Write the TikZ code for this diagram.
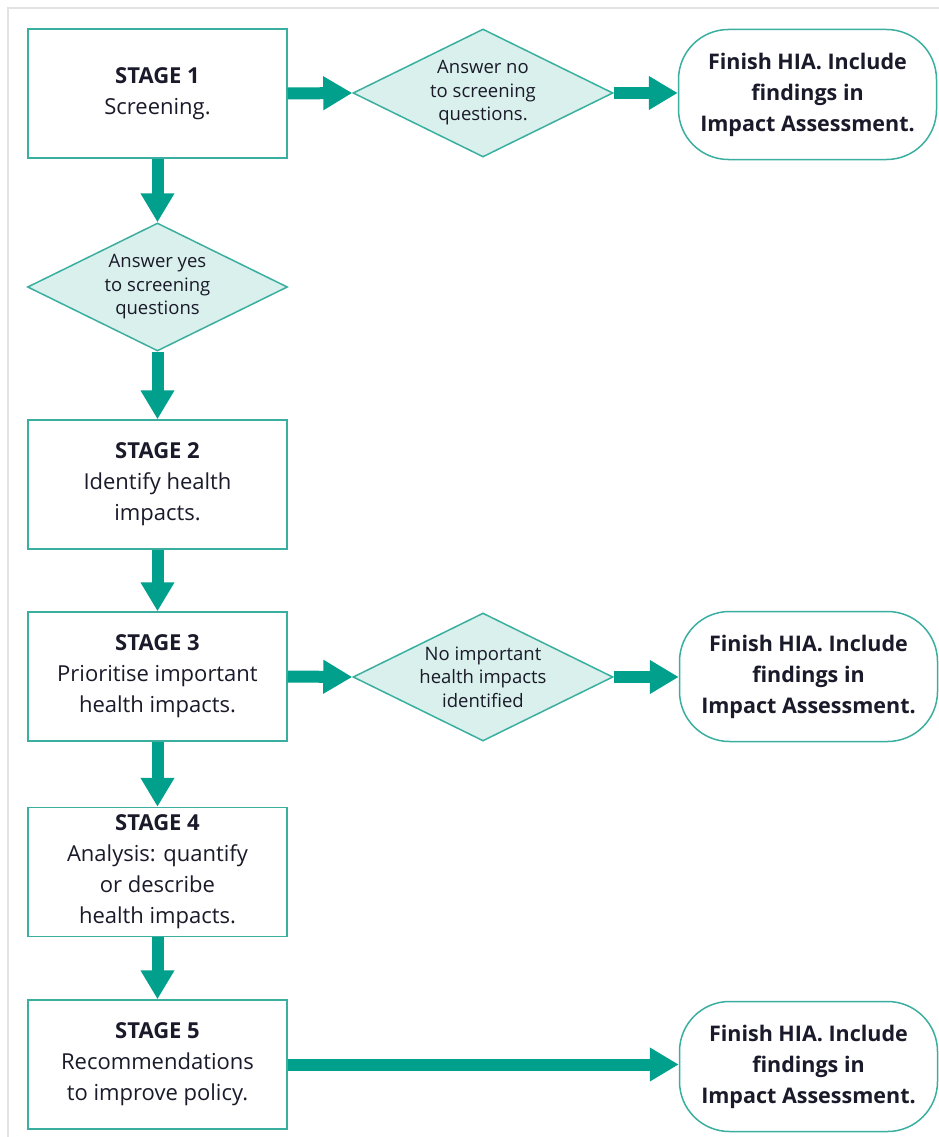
\documentclass[tikz,border=0pt]{standalone}
\usepackage{fontspec}
\setmainfont{Open Sans}
\usetikzlibrary{shapes.geometric,arrows.meta}
\definecolor{teal1}{HTML}{00A08C}
\definecolor{tealline}{HTML}{3AAFA0}
\definecolor{dfill}{HTML}{D9F0EC}
\definecolor{ink}{HTML}{1A1A2A}
\definecolor{framegray}{HTML}{E3E3E3}
\begin{document}
\begin{tikzpicture}[x=1pt,y=-1pt,
 stagebox/.style={draw=tealline, line width=1.5pt, fill=white, minimum width=259pt, minimum height=129pt, align=center, text=ink, font=\fontsize{22}{31}\selectfont, inner sep=0pt},
 dia/.style={shape=diamond, draw=tealline, line width=1.5pt, fill=dfill, minimum width=260pt, minimum height=128pt, inner sep=0pt},
 dtext/.style={align=center, text=ink, font=\fontsize{18.5}{23.5}\selectfont, inner sep=0pt},
 finish/.style={draw=tealline, line width=1.5pt, rounded corners=50pt, fill=white, minimum width=258pt, minimum height=130pt, align=center, text=ink, font=\bfseries\fontsize{21.5}{31}\selectfont, inner sep=0pt},
 flow/.style={draw=teal1, line width=12pt, -{Triangle[length=29pt,width=32pt]}}]
\useasboundingbox (0,0) rectangle (939,1137);
\draw[framegray, line width=2pt] (8,1137) -- (8,8) -- (939,8);

\node[stagebox] (s1) at (157.5,93.5) {\textbf{STAGE 1}\\Screening.};
\node[dia, label={[dtext]center:{Answer no\\to screening\\questions.}}] (d1) at (483,93) {};
\node[finish] (f1) at (807.5,94.5) {Finish HIA. Include\\findings in\\Impact Assessment.};

\node[dia, label={[dtext]center:{Answer yes\\to screening\\questions}}] (d2) at (157.5,287) {};

\node[stagebox] (s2) at (157.5,484.5) {\textbf{STAGE 2}\\Identify health\\impacts.};
\node[stagebox] (s3) at (157.5,676.5) {\textbf{STAGE 3}\\Prioritise important\\health impacts.};
\node[dia, label={[dtext]center:{No important\\health impacts\\identified}}] (d3) at (483,677) {};
\node[finish] (f2) at (808.5,676.5) {Finish HIA. Include\\findings in\\Impact Assessment.};

\node[stagebox] (s4) at (157.5,872) {\textbf{STAGE 4}\\Analysis: quantify\\or describe\\health impacts.};
\node[stagebox] (s5) at (157.5,1064.5) {\textbf{STAGE 5}\\Recommendations\\to improve policy.};
\node[finish] (f3) at (808.5,1066.5) {Finish HIA. Include\\findings in\\Impact Assessment.};

\draw[flow] (s1.east) -- (d1.west);
\draw[flow] (d1.east) -- (f1.west |- d1.east);
\draw[flow] (s1.south) -- (d2.north);
\draw[flow] (d2.south) -- (s2.north);
\draw[flow] (s2.south) -- (s3.north);
\draw[flow] (s3.east) -- (d3.west);
\draw[flow] (d3.east) -- (f2.west |- d3.east);
\draw[flow] (s3.south) -- (s4.north);
\draw[flow] (s4.south) -- (s5.north);
\draw[flow] (s5.east) -- (f3.west |- s5.east);
\end{tikzpicture}
\end{document}
